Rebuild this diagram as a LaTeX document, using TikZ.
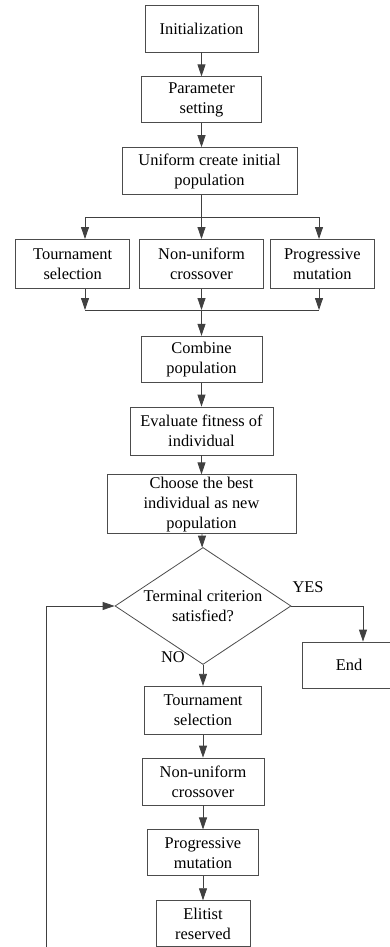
\documentclass[tikz,border=0pt]{standalone}
\usepackage{fontspec}
\setmainfont{Liberation Serif}
\usetikzlibrary{arrows.meta,shapes.geometric,positioning}

\begin{document}
\begin{tikzpicture}[
        x=1pt, y=-1pt,
        node distance=24pt,
        >={Triangle[length=12pt,width=8pt]},
        box/.style={draw=black!70, rectangle, line width=0.8pt, minimum height=47pt, align=center, inner sep=2pt, font=\fontsize{16.4pt}{20pt}\selectfont},
        decision/.style={draw=black!70, diamond, line width=0.8pt, minimum width=176pt, minimum height=117pt, inner sep=0pt},
        lbl/.style={font=\fontsize{16.4pt}{20pt}\selectfont, inner sep=1pt},
        link/.style={draw=black!75, line width=0.8pt}
      ]
        \useasboundingbox (0,0) rectangle (389,947);

        \node[box, minimum width=113pt] (init) at (201.5,28.5) {Initialization};
        \node[box, minimum width=120pt, minimum height=46pt, below=of init] (param) {Parameter\\setting};
        \node[box, minimum width=175pt, below=of param, xshift=8pt] (create) {Uniform create initial\\population};
        \node[box, minimum width=124pt, minimum height=49pt, below=44pt of create, xshift=-8pt] (nucross) {Non-uniform\\crossover};
        \node[box, minimum width=114pt, minimum height=49pt, left=9pt of nucross] (tsel) {Tournament\\selection};
        \node[box, minimum width=104pt, minimum height=49pt, right=6pt of nucross] (pmut) {Progressive\\mutation};
        \node[box, minimum width=121pt, minimum height=46pt, below=47pt of nucross] (combine) {Combine\\population};
        \node[box, minimum width=143pt, minimum height=48pt, below=of combine] (evalfit) {Evaluate fitness of\\individual};
        \node[box, minimum width=189pt, below=19pt of evalfit] (choose) {Choose the best\\individual as new\\population};
        \node[decision, below=13pt of choose, xshift=1.5pt] (term) {};
        \node[lbl, align=center] (termtxt) at (term) {Terminal criterion\\satisfied?};
        \node[box, minimum width=94pt, minimum height=46pt] (finish) at (349,665) {End};
        \node[box, minimum width=117pt, minimum height=48pt, below=21pt of term] (tsel2) {Tournament\\selection};
        \node[box, minimum width=122pt, minimum height=47pt, below=23pt of tsel2] (nucross2) {Non-uniform\\crossover};
        \node[box, minimum width=111pt, minimum height=46pt, below=of nucross2] (pmut2) {Progressive\\mutation};
        \node[box, minimum width=94pt, minimum height=46pt, below=of pmut2] (elit) {Elitist\\reserved};

        \node[lbl] (yes) at (308,587) {YES};
        \node[lbl] (no) at (173,657) {NO};

        % fork and join points
        \coordinate (fork) at (201.5,217);
        \coordinate (forkl) at (85,217);
        \coordinate (forkr) at (319,217);
        \coordinate (join) at (201.5,310);
        \coordinate (joinl) at (85,310);
        \coordinate (joinr) at (319,310);
        \coordinate (loop) at (46,975);

        \draw[link,->] (init) -- (param);
        \draw[link,->] (param.south) -- (param.south |- create.north);
        \draw[link] (create.south -| fork) -- (fork);
        \draw[link] (forkl) -- (forkr);
        \draw[link,->] (fork) -- (nucross);
        \draw[link,->] (forkl) -- (forkl |- tsel.north);
        \draw[link,->] (forkr) -- (forkr |- pmut.north);
        \draw[link,->] (tsel.south -| joinl) -- (joinl);
        \draw[link,->] (nucross) -- (join);
        \draw[link,->] (pmut.south -| joinr) -- (joinr);
        \draw[link] (joinl) -- (joinr);
        \draw[link,->] (join) -- (combine);
        \draw[link,->] (combine) -- (evalfit);
        \draw[link,->] (evalfit) -- (choose);
        \draw[link,->] (choose) -- (term);
        \draw[link,->] (term.east) -| ([xshift=14pt]finish.north);
        \draw[link,->] (term) -- (tsel2);
        \draw[link,->] (tsel2) -- (nucross2);
        \draw[link,->] (nucross2) -- (pmut2);
        \draw[link,->] (pmut2) -- (elit);
        \draw[link,->] (elit) -- (elit |- loop) -- (loop) -- (loop |- term) -- (term.west);
      \end{tikzpicture}
\end{document}
